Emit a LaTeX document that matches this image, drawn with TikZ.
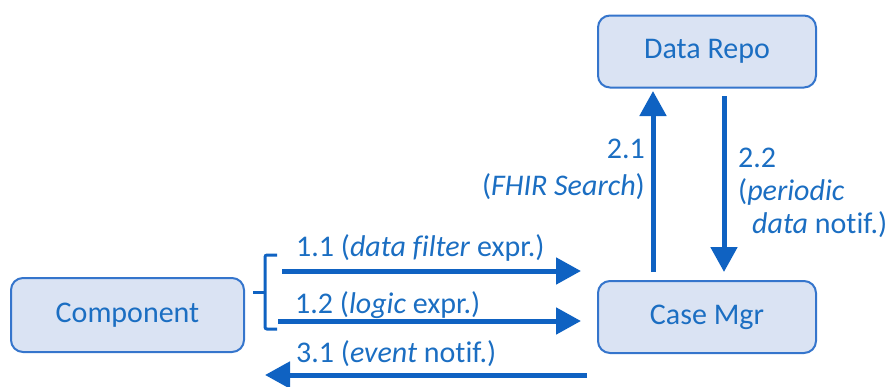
\documentclass[tikz,border=0pt]{standalone}
\usepackage{fontspec}
\setmainfont{Carlito}[Ligatures=NoCommon]
\usetikzlibrary{arrows.meta}
\definecolor{flowblue}{HTML}{0F62C2}
\definecolor{boxline}{HTML}{3575CC}
\definecolor{boxfill}{HTML}{DAE3F3}
\definecolor{txtblue}{HTML}{1B6EC2}

\begin{document}
\begin{tikzpicture}[x=1pt,y=-1pt,
  box/.style={draw=boxline,fill=boxfill,line width=2pt,rounded corners=12pt,
    minimum width=218pt,minimum height=72pt,text=txtblue,
    font=\fontsize{30}{35}\selectfont},
  flow/.style={draw=flowblue,line width=5pt,-{Triangle[length=25pt,width=26pt]}},
  lbl/.style={text=txtblue,inner sep=0pt,font=\fontsize{30}{35}\selectfont},
  brace/.style={draw=flowblue,line width=3pt,rounded corners=2pt}
]
 \path[use as bounding box] (0,0) rectangle (887,386);

 \node[box] (repo) at (707,51.5) {Data Repo};
 \node[box] (cm) at (707,317) {Case Mgr};
 \node[box,minimum width=233pt,minimum height=74pt] (comp) at (127.5,315) {Component};

 % grouping bracket in front of the component
 \draw[brace] (277,255) -- (265,255) -- (265,329) -- (277,329);
 \draw[brace] (253,292) -- (265,292);

 % free ends of the horizontal and vertical flows
 \coordinate (s11) at (282,271);
 \coordinate (s12) at (278,321);
 \coordinate (e31) at (265,375);
 \coordinate (x21) at (653,0);
 \coordinate (x22) at (724,0);

 \draw[flow,shorten >=16pt] (s11) -- (s11 -| cm.west);
 \draw[flow,shorten >=16pt] (s12) -- (s12 -| cm.west);
 \draw[flow,shorten <=10pt] (e31 -| cm.west) -- (e31);
 \draw[flow,shorten <=8pt,shorten >=2.5pt] (x21 |- cm.north) -- (x21 |- repo.south);
 \draw[flow,shorten <=7.5pt,shorten >=8pt] (x22 |- repo.south) -- (x22 |- cm.north);

 \node[lbl,anchor=base west] (l11) at (296,256) {1.1 (\textit{data filter} expr.)};
 \node[lbl,anchor=base west] (l12) at (295,313) {1.2 (\textit{logic} expr.)};
 \node[lbl,anchor=base west] (l31) at (296,362) {3.1 (\textit{event} notif.)};
 \node[lbl,anchor=north east,align=right,font=\fontsize{30}{37}\selectfont]
   (l21) at (645,139) {2.1\\(\textit{FHIR Search})};
 \node[lbl,anchor=north west,align=left,font=\fontsize{30}{33}\selectfont]
   (l22) at (738,148) {2.2\\(\textit{periodic}\\\hspace*{14pt}\textit{data} notif.)};
\end{tikzpicture}
\end{document}
